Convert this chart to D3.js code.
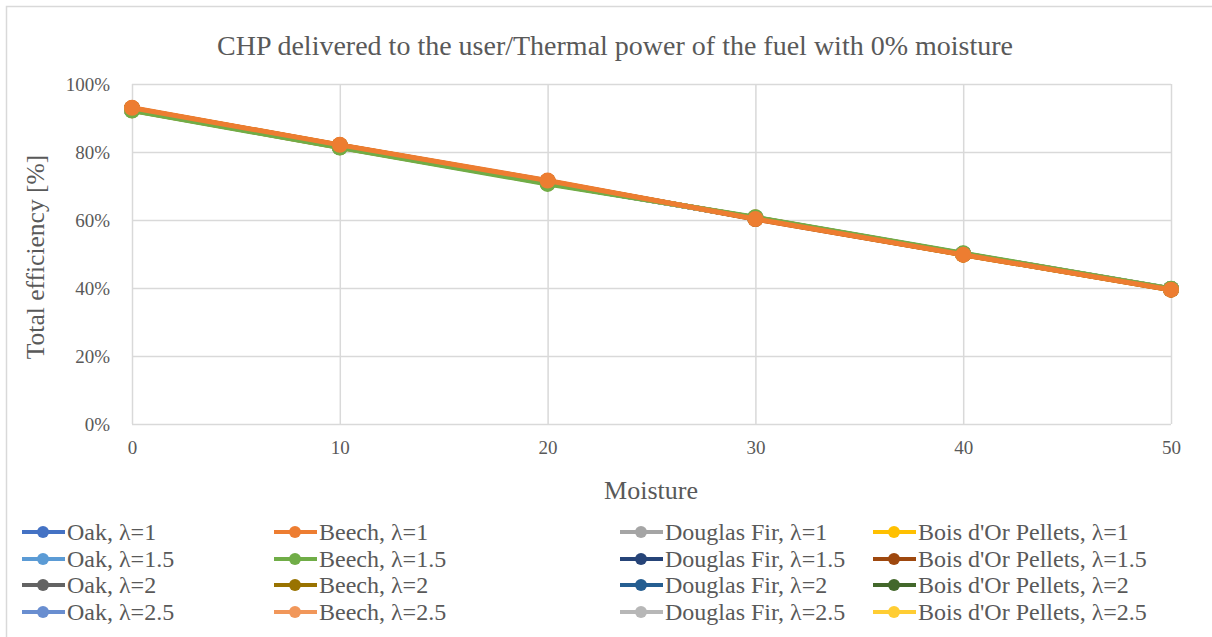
<!DOCTYPE html>
<html>
<head>
<meta charset="utf-8">
<script src="https://cdn.jsdelivr.net/npm/d3@7"></script>
<style>
  html, body { margin: 0; padding: 0; background: #fff; }
  svg { display: block; font-family: "Liberation Serif", "Times New Roman", serif; }
</style>
</head>
<body>
<svg id="chart" width="1212" height="637"></svg>
<script>
// Moisture content of the fuel [%]
const moisture = [0, 10, 20, 30, 40, 50];

// Total efficiency [%] per fuel and excess-air ratio
const oak1      = [92.7, 81.8, 71.2, 60.5, 49.9, 39.6];
const beech1    = [93.0, 82.1, 71.6, 60.3, 49.8, 39.5];
const douglas1  = [92.8, 81.9, 71.3, 60.4, 49.9, 39.6];
const bois1     = [92.9, 82.0, 71.4, 60.4, 49.8, 39.5];
const oak15     = [92.6, 81.7, 71.1, 60.5, 50.0, 39.6];
const beech15   = [92.2, 81.3, 70.6, 60.8, 50.2, 39.8];
const douglas15 = [92.5, 81.6, 71.0, 60.5, 50.0, 39.6];
const bois15    = [92.9, 82.0, 71.5, 60.3, 49.8, 39.5];
const oak2      = [92.5, 81.6, 71.0, 60.6, 50.0, 39.7];
const beech2    = [92.3, 81.4, 70.8, 60.7, 50.1, 39.7];
const douglas2  = [92.4, 81.5, 70.9, 60.6, 50.0, 39.7];
const bois2     = [92.7, 81.8, 71.2, 60.4, 49.9, 39.6];
const oak25     = [92.4, 81.5, 70.9, 60.6, 50.1, 39.7];
const beech25   = [92.3, 81.4, 70.8, 60.7, 50.1, 39.7];
const douglas25 = [92.4, 81.5, 70.9, 60.6, 50.0, 39.7];
const bois25    = [92.6, 81.7, 71.1, 60.5, 49.9, 39.6];

const seriesNames = [
  "Oak, λ=1", "Beech, λ=1", "Douglas Fir, λ=1", "Bois d'Or Pellets, λ=1",
  "Oak, λ=1.5", "Beech, λ=1.5", "Douglas Fir, λ=1.5", "Bois d'Or Pellets, λ=1.5",
  "Oak, λ=2", "Beech, λ=2", "Douglas Fir, λ=2", "Bois d'Or Pellets, λ=2",
  "Oak, λ=2.5", "Beech, λ=2.5", "Douglas Fir, λ=2.5", "Bois d'Or Pellets, λ=2.5"
];
const seriesValues = [
  oak1, beech1, douglas1, bois1,
  oak15, beech15, douglas15, bois15,
  oak2, beech2, douglas2, bois2,
  oak25, beech25, douglas25, bois25
];
const seriesColors = [
  "#4472C4", "#ED7D31", "#A5A5A5", "#FFC000",
  "#5B9BD5", "#70AD47", "#264478", "#9E480E",
  "#636363", "#997300", "#255E91", "#43682B",
  "#698ED0", "#F1975A", "#B7B7B7", "#FFCD33"
];
// Drawing order: Beech, λ=1 is raised to the front
const drawOrder = [0, 2, 3, 4, 6, 7, 8, 9, 10, 11, 12, 13, 14, 15, 5, 1];

const xTicks = [0, 10, 20, 30, 40, 50];
const yTicks = [0, 20, 40, 60, 80, 100];

const titleText = "CHP delivered to the user/Thermal power of the fuel with 0% moisture";
const xTitle = "Moisture";
const yTitle = "Total efficiency [%]";

const svg = d3.select("#chart");
const textColor = "#595959";
const gridColor = "#D9D9D9";

// Outer chart frame
svg.append("rect")
  .attr("x", 6.5).attr("y", 6.5)
  .attr("width", 1212).attr("height", 640)
  .attr("fill", "#fff").attr("stroke", gridColor).attr("stroke-width", 1.5);

const plot = { left: 132, right: 1171, top: 84, bottom: 424 };
const x = d3.scaleLinear().domain([0, 50]).range([plot.left, plot.right]);
const y = d3.scaleLinear().domain([0, 100]).range([plot.bottom, plot.top]);

// Gridlines
svg.append("g")
  .attr("transform", `translate(0,${plot.bottom})`)
  .call(d3.axisBottom(x).tickValues(xTicks).tickSize(-(plot.bottom - plot.top)).tickFormat(""))
  .call(g => g.select(".domain").remove())
  .call(g => g.selectAll("line").attr("stroke", gridColor).attr("stroke-width", 1.5));
svg.append("g")
  .attr("transform", `translate(${plot.left},0)`)
  .call(d3.axisLeft(y).tickValues(yTicks).tickSize(-(plot.right - plot.left)).tickFormat(""))
  .call(g => g.select(".domain").remove())
  .call(g => g.selectAll("line").attr("stroke", gridColor).attr("stroke-width", 1.5));

// Tick labels
const xAxis = svg.append("g")
  .attr("transform", `translate(0,${plot.bottom})`)
  .call(d3.axisBottom(x).tickValues(xTicks).tickSize(0).tickPadding(17).tickFormat(d3.format("d")));
xAxis.select(".domain").remove();
xAxis.selectAll("text").attr("fill", textColor).style("font-size", "19px")
  .style("font-family", "Liberation Serif");

const yAxis = svg.append("g")
  .attr("transform", `translate(${plot.left},0)`)
  .call(d3.axisLeft(y).tickValues(yTicks).tickSize(0).tickPadding(22).tickFormat(d => d + "%"));
yAxis.select(".domain").remove();
yAxis.selectAll("text").attr("fill", textColor).style("font-size", "19px")
  .style("font-family", "Liberation Serif");

// Titles
svg.append("text")
  .attr("x", 615).attr("y", 55)
  .attr("text-anchor", "middle")
  .attr("fill", textColor).style("font-size", "28px")
  .text(titleText);
svg.append("text")
  .attr("x", 651).attr("y", 499)
  .attr("text-anchor", "middle")
  .attr("fill", textColor).style("font-size", "26px")
  .text(xTitle);
svg.append("text")
  .attr("transform", `translate(44,${(plot.top + plot.bottom) / 2 + 3}) rotate(-90)`)
  .attr("text-anchor", "middle")
  .attr("fill", textColor).style("font-size", "25.5px")
  .text(yTitle);

// Series lines and markers
const line = d3.line().x((d, i) => x(moisture[i])).y(d => y(d));
const seriesG = svg.append("g");
drawOrder.forEach(k => {
  const g = seriesG.append("g");
  g.append("path")
    .datum(seriesValues[k])
    .attr("d", line)
    .attr("fill", "none")
    .attr("stroke", seriesColors[k])
    .attr("stroke-width", 5)
    .attr("stroke-linejoin", "round");
  g.selectAll("circle")
    .data(seriesValues[k])
    .join("circle")
    .attr("cx", (d, i) => x(moisture[i]))
    .attr("cy", d => y(d))
    .attr("r", 8)
    .attr("fill", seriesColors[k]);
});

// Legend (4 columns, row-major)
const colX = [22, 274, 620, 873];
const rowY = [532, 559, 585, 612];
const legend = svg.append("g");
seriesNames.forEach((name, k) => {
  const cx = colX[k % 4], cy = rowY[Math.floor(k / 4)];
  const item = legend.append("g").attr("transform", `translate(${cx},${cy})`);
  item.append("line").attr("x1", 0).attr("x2", 43).attr("y1", 0).attr("y2", 0)
    .attr("stroke", seriesColors[k]).attr("stroke-width", 4);
  item.append("circle").attr("cx", 21).attr("cy", 0).attr("r", 6).attr("fill", seriesColors[k]);
  item.append("text").attr("x", 45).attr("y", 0).attr("dy", "0.34em")
    .attr("fill", textColor).style("font-size", "24px").text(name);
});
</script>
</body>
</html>
